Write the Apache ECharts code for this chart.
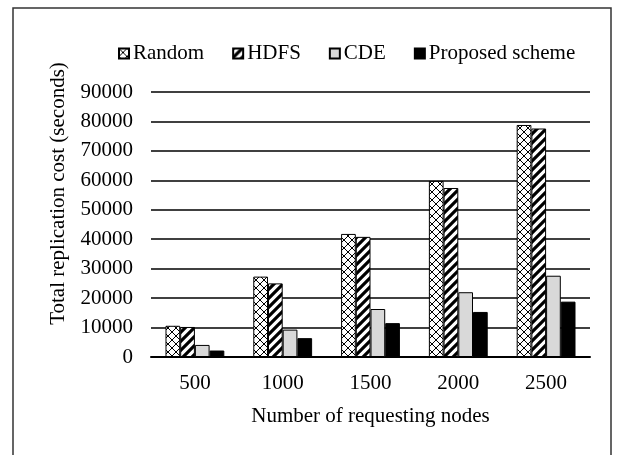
<!DOCTYPE html>
<html>
<head>
<meta charset="utf-8">
<script src="https://cdn.jsdelivr.net/npm/echarts@6/dist/echarts.min.js"></script>
<style>
  html, body { margin: 0; padding: 0; background: #fff; }
  #main { width: 619px; height: 455px; }
</style>
</head>
<body>
<div id="main"></div>
<script>
var categories = ['500', '1000', '1500', '2000', '2500'];
var seriesNames = ['Random', 'HDFS', 'CDE', 'Proposed scheme'];
var randomCost = [10600, 27300, 41800, 59800, 78800];
var hdfsCost = [10200, 25000, 40800, 57400, 77600];
var cdeCost = [4100, 9300, 16300, 22000, 27600];
var proposedCost = [2200, 6400, 11500, 15300, 18800];
var yTicks = [0, 10000, 20000, 30000, 40000, 50000, 60000, 70000, 80000, 90000];

// cross hatch for Random
function crossPattern() {
    var c = document.createElement('canvas');
    c.width = 8; c.height = 8;
    var ctx = c.getContext('2d');
    ctx.fillStyle = '#fff';
    ctx.fillRect(0, 0, 8, 8);
    ctx.strokeStyle = '#000';
    ctx.lineWidth = 1;
    ctx.beginPath();
    ctx.moveTo(0, 0); ctx.lineTo(8, 8);
    ctx.moveTo(8, 0); ctx.lineTo(0, 8);
    ctx.stroke();
    return c;
}

// wide diagonal stripes for HDFS
function stripePattern() {
    var c = document.createElement('canvas');
    c.width = 9; c.height = 9;
    var ctx = c.getContext('2d');
    ctx.fillStyle = '#fff';
    ctx.fillRect(0, 0, 9, 9);
    ctx.strokeStyle = '#000';
    ctx.lineWidth = 3.2;
    ctx.beginPath();
    ctx.moveTo(-2, 11); ctx.lineTo(11, -2);
    ctx.moveTo(-11, 11); ctx.lineTo(2, -2);
    ctx.moveTo(7, 11); ctx.lineTo(20, -2);
    ctx.stroke();
    return c;
}

var fills = [
    { image: crossPattern(), repeat: 'repeat' },
    { image: stripePattern(), repeat: 'repeat' },
    '#d9d9d9',
    '#000'
];
var values = [randomCost, hdfsCost, cdeCost, proposedCost];

var font = 'Liberation Serif';

var series = seriesNames.map(function (name, i) {
    return {
        name: name,
        type: 'bar',
        barGap: '0%',
        barCategoryGap: '33%',
        itemStyle: {
            color: fills[i],
            borderColor: '#000',
            borderWidth: 1
        },
        data: values[i]
    };
});

var chart = echarts.init(document.getElementById('main'));
var option = {
    animation: false,
    backgroundColor: '#fff',
    graphic: [{
        type: 'rect',
        shape: { x: 13, y: 8, width: 598, height: 470 },
        style: { fill: 'none', stroke: '#333', lineWidth: 1.5 },
        silent: true
    }],
    legend: {
        top: 38,
        left: 113,
        icon: 'rect',
        itemWidth: 10,
        itemHeight: 10,
        itemGap: 28,
        selectedMode: false,
        textStyle: {
            fontFamily: font,
            fontSize: 21,
            color: '#000',
            padding: [0, 0, 0, -1]
        },
        data: seriesNames
    },
    grid: {
        left: 151,
        right: 29,
        top: 92,
        bottom: 98
    },
    xAxis: {
        type: 'category',
        data: categories,
        name: 'Number of requesting nodes',
        nameLocation: 'middle',
        nameGap: 49,
        nameTextStyle: { fontFamily: font, fontSize: 21, color: '#000' },
        axisLine: { lineStyle: { color: '#000', width: 2 } },
        axisTick: { show: false },
        axisLabel: { fontFamily: font, fontSize: 21, color: '#000', margin: 16 }
    },
    yAxis: {
        type: 'value',
        min: yTicks[0],
        max: yTicks[yTicks.length - 1],
        interval: yTicks[1] - yTicks[0],
        name: 'Total replication cost (seconds)',
        nameLocation: 'middle',
        nameGap: 82,
        nameTextStyle: {
            fontFamily: font, fontSize: 21, color: '#000',
            padding: [0, 0, 0, 62]
        },
        axisLine: { show: false },
        axisTick: { show: false },
        axisLabel: {
            fontFamily: font, fontSize: 21, color: '#000', margin: 18,
            formatter: function (v) { return String(v); }
        },
        splitLine: { lineStyle: { color: '#000', width: 1.5 } }
    },
    series: series
};
chart.setOption(option);
</script>
</body>
</html>
